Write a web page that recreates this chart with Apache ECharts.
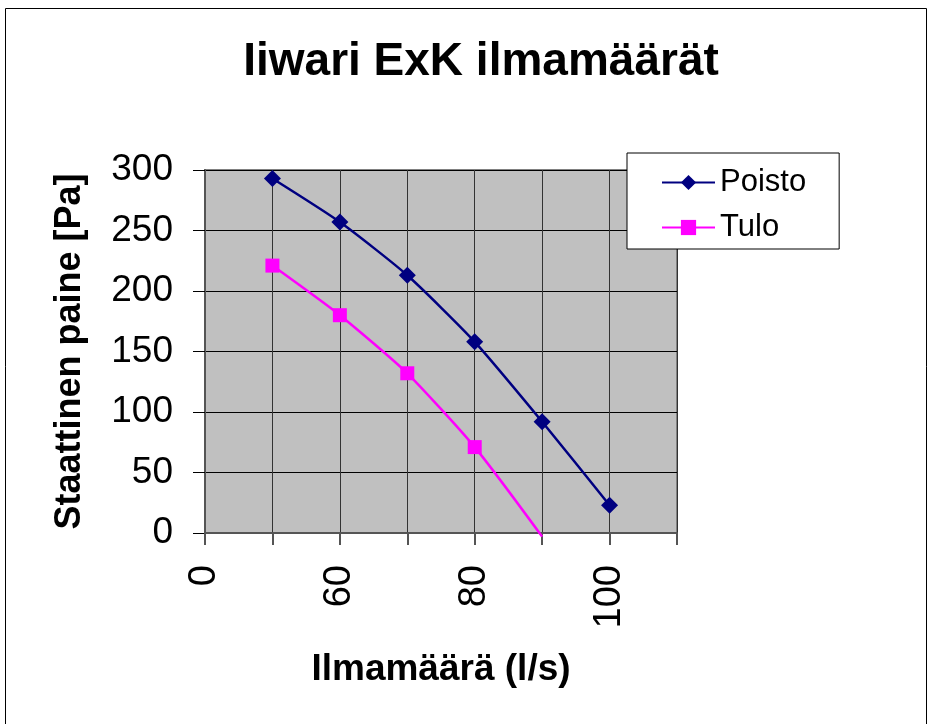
<!DOCTYPE html>
<html>
<head>
    <meta charset="utf-8" />
    <title>Iiwari ExK ilmamäärät</title>
    <script src="https://cdn.jsdelivr.net/npm/echarts@6/dist/echarts.min.js"></script>
</head>
<body style="margin:0;background:#fff;">
    <div id="chart" style="width:933px;height:724px;"></div>
    <script type="text/javascript">
        // x categories (only every other label is shown, as in the original)
        var flowLabels = ['0', '50', '60', '70', '80', '90', '100', '110'];
        // Staattinen paine [Pa]
        var poistoValues = [null, 293, 257, 213, 158, 92, 23, null];
        var tuloValues = [null, 221, 180, 132, 71, -3, null, null];

        var font = 'Liberation Sans, Arial, sans-serif';
        var chart = echarts.init(document.getElementById('chart'));

        var option = {
            backgroundColor: '#fff',
            animation: false,
            title: {
                text: 'Iiwari ExK ilmamäärät',
                left: 476,
                top: 34,
                textAlign: 'center',
                textStyle: { fontFamily: font, fontSize: 46, fontWeight: 'bold', color: '#000' }
            },
            graphic: [{
                type: 'rect',
                shape: { x: 5.5, y: 8.5, width: 921, height: 740 },
                style: { fill: 'none', stroke: '#000', lineWidth: 1 },
                silent: true
            }],
            legend: {
                orient: 'vertical',
                left: 627,
                top: 153,
                padding: [14, 33, 6, 34],
                itemGap: 14,
                itemWidth: 53,
                itemHeight: 19,
                backgroundColor: '#fff',
                borderColor: '#000',
                borderWidth: 1,
                textStyle: { fontFamily: font, fontSize: 31, color: '#000' },
                data: ['Poisto', 'Tulo']
            },
            grid: {
                left: 205,
                right: 256,
                top: 170,
                bottom: 191,
                show: true,
                backgroundColor: '#c0c0c0',
                borderColor: '#808080',
                borderWidth: 2
            },
            xAxis: {
                type: 'category',
                data: flowLabels,
                boundaryGap: false,
                name: 'Ilmamäärä (l/s)',
                nameLocation: 'middle',
                nameGap: 118,
                nameTextStyle: { fontFamily: font, fontSize: 37, fontWeight: 'bold', color: '#000' },
                axisLine: { lineStyle: { color: '#555', width: 2 } },
                axisTick: { show: true, interval: 0, length: 12, lineStyle: { color: '#555', width: 2 } },
                axisLabel: {
                    interval: 1,
                    rotate: 90,
                    margin: 32,
                    fontFamily: font,
                    fontSize: 38,
                    color: '#000'
                },
                splitLine: { show: true, interval: 0, lineStyle: { color: '#333', width: 1 } }
            },
            yAxis: {
                type: 'value',
                min: 0,
                max: 300,
                interval: 50,
                name: 'Staattinen paine [Pa]',
                nameLocation: 'middle',
                nameGap: 117,
                nameTextStyle: { fontFamily: font, fontSize: 36, fontWeight: 'bold', color: '#000' },
                axisLine: { show: true, lineStyle: { color: '#555', width: 2 } },
                axisTick: { show: true, length: 12, lineStyle: { color: '#000', width: 1 } },
                axisLabel: { margin: 32, fontFamily: font, fontSize: 37, color: '#000' },
                splitLine: { show: true, lineStyle: { color: '#000', width: 1 } }
            },
            series: [{
                name: 'Poisto',
                type: 'line',
                smooth: 0.2,
                data: poistoValues,
                symbol: 'diamond',
                symbolSize: 17,
                color: '#000080',
                lineStyle: { width: 2.5, color: '#000080' },
                itemStyle: { color: '#000080' }
            }, {
                name: 'Tulo',
                type: 'line',
                smooth: 0.2,
                clip: false,
                data: tuloValues.map(function (v) {
                    return v !== null && v < 0 ? { value: v, symbol: 'none' } : v;
                }),
                symbol: 'rect',
                symbolSize: 14,
                color: '#ff00ff',
                lineStyle: { width: 2.5, color: '#ff00ff' },
                itemStyle: { color: '#ff00ff' }
            }]
        };
        chart.setOption(option);
    </script>
</body>
</html>
